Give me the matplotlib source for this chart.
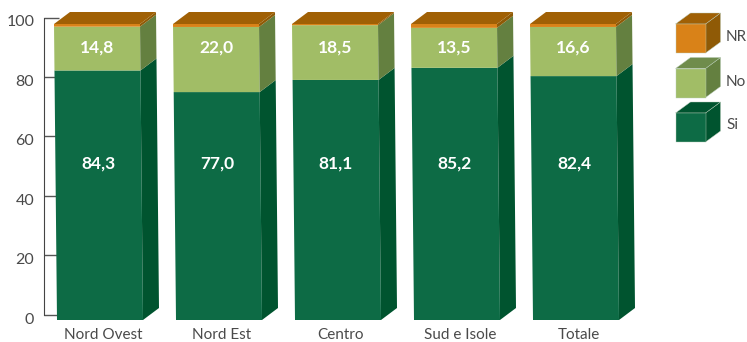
import matplotlib
matplotlib.use("Agg")
import matplotlib.pyplot as plt
from matplotlib.patches import Polygon
from matplotlib.transforms import ScaledTranslation

plt.rcParams['font.family'] = ['Lato', 'DejaVu Sans']

categories = ["Nord Ovest", "Nord Est", "Centro", "Sud e Isole", "Totale"]
si = [84.3, 77.0, 81.1, 85.2, 82.4]
no = [14.8, 22.0, 18.5, 13.5, 16.6]
nr = [0.9, 1.0, 0.4, 1.3, 1.0]
yticks = [0, 20, 40, 60, 80, 100]
legend_labels = ["NR", "No", "Si"]

# front, side, top
col_si = ("#0d6b45", "#00542f", "#00542f")
col_no = ("#a1bd66", "#648040", "#6f8c4c")
col_nr = ("#d98218", "#8f5a06", "#a06005")
edge = "#b8ccb8"
txt = "#4a4a4a"

W, H = 747, 342
fig = plt.figure(figsize=(W / 100, H / 100), dpi=100)


def box(left, top, right, bottom):
    return [left / W, 1 - bottom / H, (right - left) / W, (bottom - top) / H]


# back axis, sits a bit higher than the bars
ax0 = fig.add_axes(box(44, 17.5, 60, 314.5))
ax0.set_ylim(0, 100)
ax0.set_xticks([])
ax0.set_yticks(yticks)
ax0.tick_params(axis="y", direction="in", length=11, width=1, color="#555555",
                labelsize=11.5, labelcolor=txt, pad=7)
for lab in ax0.get_yticklabels():
    lab.set_transform(lab.get_transform() + ScaledTranslation(0, -3.5 / 100, fig.dpi_scale_trans))
for s in ["top", "right", "bottom"]:
    ax0.spines[s].set_visible(False)
ax0.spines["left"].set_color("#444444")
ax0.patch.set_alpha(0)

# bars
ax = fig.add_axes(box(0, 24, W, 320), zorder=2)
ax.set_xlim(0, W)
ax.set_ylim(0, 100)
ax.axis("off")
ax.patch.set_alpha(0)

bar_w = 86
step = 119
x0 = 54
dx = 16
dy = 12 / 2.96
skew = 3
y_si_label = 53
y_no_label = 92.2


def xs(y):
    return skew * (100 - y) / 100


def segment(left, y0, y1, cols, top=False):
    ax.add_patch(Polygon([(left + xs(y0), y0), (left + bar_w + xs(y0), y0),
                          (left + bar_w + xs(y1), y1), (left + xs(y1), y1)],
                         fc=cols[0], ec="none", clip_on=False))
    ax.add_patch(Polygon([(left + bar_w + xs(y0), y0), (left + bar_w + dx + xs(y0), y0 + dy),
                          (left + bar_w + dx + xs(y1), y1 + dy), (left + bar_w + xs(y1), y1)],
                         fc=cols[1], ec="none", clip_on=False))
    if top:
        ax.add_patch(Polygon([(left + xs(y1), y1), (left + bar_w + xs(y1), y1),
                              (left + bar_w + dx + xs(y1), y1 + dy), (left + dx + xs(y1), y1 + dy)],
                             fc=cols[2], ec="none", clip_on=False))


for i, c in enumerate(categories):
    left = x0 + i * step
    segment(left, 0, si[i], col_si)
    segment(left, si[i], si[i] + no[i], col_no)
    segment(left, si[i] + no[i], si[i] + no[i] + nr[i], col_nr, top=True)
    ax.text(left + bar_w / 2 + 1, y_si_label, f"{si[i]:.1f}".replace(".", ","), color="white",
            fontsize=12.5, fontweight="bold", ha="center", va="center")
    ax.text(left + bar_w / 2, y_no_label, f"{no[i]:.1f}".replace(".", ","), color="white",
            fontsize=12.5, fontweight="bold", ha="center", va="center")
    ax.text(left + bar_w / 2 + 6, -5, c, color=txt, fontsize=11, ha="center", va="center", clip_on=False)

# legend, in pixels
lg = fig.add_axes([0, 0, 1, 1], zorder=3)
lg.set_xlim(0, W)
lg.set_ylim(H, 0)
lg.axis("off")
lg.patch.set_alpha(0)


def cube(left, top, cols):
    w, h = 30, 29
    d, e = 15, 11
    lg.add_patch(Polygon([(left + w, top), (left + w + d, top - e), (left + w + d, top + h - e), (left + w, top + h)],
                         fc=cols[1], ec=edge, lw=0.3))
    lg.add_patch(Polygon([(left, top), (left + w, top), (left + w + d, top - e), (left + d, top - e)],
                         fc=cols[2], ec=edge, lw=0.3))
    lg.add_patch(Polygon([(left, top), (left + w, top), (left + w, top + h), (left, top + h)],
                         fc=cols[0], ec=edge, lw=0.3))


for lab, cols, top, ty in zip(legend_labels, [col_nr, col_no, col_si], [24, 68.5, 113], [37, 82, 125]):
    cube(675.5, top, cols)
    lg.text(726, ty, lab, color=txt, fontsize=11, va="center", ha="left")

fig.savefig("out.png", dpi=100)
